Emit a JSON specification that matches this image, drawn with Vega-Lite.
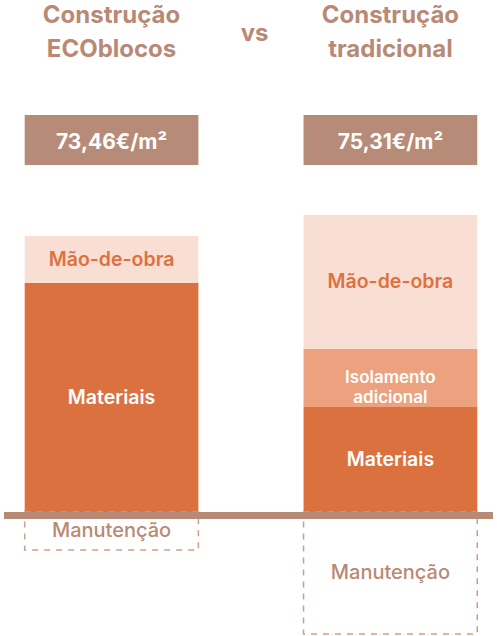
{
  "$schema": "https://vega.github.io/schema/vega-lite/v6.json",
  "description": "Custo por m2: construção ECOblocos vs construção tradicional",
  "width": 497,
  "height": 636,
  "autosize": {"type": "fit", "contains": "padding"},
  "padding": 0,
  "background": "white",
  "config": {"view": {"stroke": null}},
  "datasets": {
    "partes": [
      {"sistema": "ECOblocos", "parte": "Materiais", "valor": 229, "ordem": 1},
      {"sistema": "ECOblocos", "parte": "Mão-de-obra", "valor": 47, "ordem": 3},
      {"sistema": "ECOblocos", "parte": "Manutenção", "valor": -38, "ordem": 4},
      {"sistema": "tradicional", "parte": "Materiais", "valor": 105, "ordem": 1},
      {"sistema": "tradicional", "parte": "Isolamento adicional", "valor": 58, "ordem": 2},
      {"sistema": "tradicional", "parte": "Mão-de-obra", "valor": 134, "ordem": 3},
      {"sistema": "tradicional", "parte": "Manutenção", "valor": -122, "ordem": 4}
    ],
    "sistemas": [
      {"sistema": "ECOblocos", "titulo": "Construção ECOblocos", "preco": "73,46€/m²"},
      {"sistema": "tradicional", "titulo": "Construção tradicional", "preco": "75,31€/m²"}
    ]
  },
  "encoding": {
    "x": {
      "field": "sistema",
      "type": "nominal",
      "axis": null,
      "scale": {"domain": ["ECOblocos", "tradicional"], "paddingInner": 0.377, "paddingOuter": 0.0653, "align": 0.568}
    }
  },
  "layer": [
    {
      "data": {"name": "partes"},
      "transform": [{"filter": "datum.parte !== 'Manutenção'"}],
      "mark": {"type": "bar"},
      "encoding": {
        "y": {
          "field": "valor",
          "type": "quantitative",
          "stack": "zero",
          "axis": null,
          "scale": {"domain": [-124, 512], "nice": false, "zero": false}
        },
        "color": {
          "field": "parte",
          "type": "nominal",
          "legend": null,
          "scale": {
            "domain": ["Materiais", "Isolamento adicional", "Mão-de-obra"],
            "range": ["#db713f", "#eca27f", "#f9dfd3"]
          }
        },
        "order": {"field": "ordem", "type": "quantitative"}
      }
    },
    {
      "data": {"name": "partes"},
      "transform": [{"filter": "datum.parte === 'Manutenção'"}],
      "mark": {"type": "bar", "fill": "white", "stroke": "#c9a08e", "strokeWidth": 1.5, "strokeDash": [6, 6]},
      "encoding": {
        "y": {"field": "valor", "type": "quantitative", "stack": "zero"}
      }
    },
    {
      "data": {"name": "partes"},
      "transform": [{"filter": "datum.parte !== 'Manutenção'"}],
      "mark": {"type": "text", "font": "Inter", "fontWeight": 600, "baseline": "middle", "lineBreak": " ", "lineHeight": 20},
      "encoding": {
        "y": {"field": "valor", "type": "quantitative", "stack": "zero", "bandPosition": 0.5},
        "detail": {"field": "parte"},
        "order": {"field": "ordem", "type": "quantitative"},
        "text": {"field": "parte"},
        "size": {
          "condition": {"test": "datum.parte === 'Isolamento adicional'", "value": 17},
          "value": 19.5
        },
        "color": {
          "condition": {"test": "datum.parte === 'Mão-de-obra'", "value": "#de7142"},
          "value": "white"
        }
      }
    },
    {
      "data": {"name": "partes"},
      "transform": [{"filter": "datum.parte === 'Manutenção'"}],
      "mark": {"type": "text", "font": "Inter", "fontSize": 20, "fontWeight": 500, "baseline": "middle", "color": "#b88a76"},
      "encoding": {
        "y": {"field": "valor", "type": "quantitative", "stack": "zero", "bandPosition": 0.5},
        "text": {"field": "parte"}
      }
    },
    {
      "data": {"values": [{}]},
      "mark": {"type": "rule", "color": "#b68a76", "strokeWidth": 7},
      "encoding": {
        "x": null,
        "y": {"datum": -3.5}
      }
    },
    {
      "data": {"name": "sistemas"},
      "mark": {"type": "rect", "color": "#b68b77"},
      "encoding": {
        "y": {"datum": 397},
        "y2": {"datum": 347}
      }
    },
    {
      "data": {"name": "sistemas"},
      "mark": {"type": "text", "font": "Inter", "fontSize": 21, "fontWeight": 700, "color": "white", "baseline": "alphabetic"},
      "encoding": {
        "y": {"datum": 363},
        "text": {"field": "preco"}
      }
    },
    {
      "data": {"name": "sistemas"},
      "mark": {"type": "text", "font": "Inter", "fontSize": 24, "fontWeight": 700, "color": "#b88a76", "baseline": "alphabetic", "lineBreak": " ", "lineHeight": 34},
      "encoding": {
        "y": {"datum": 489},
        "text": {"field": "titulo"}
      }
    },
    {
      "data": {"values": [{"sistema": "ECOblocos", "texto": "vs"}]},
      "mark": {"type": "text", "font": "Inter", "fontSize": 24, "fontWeight": 700, "color": "#b88a76", "baseline": "alphabetic", "dx": 143},
      "encoding": {
        "y": {"datum": 471},
        "text": {"field": "texto"}
      }
    }
  ]
}
